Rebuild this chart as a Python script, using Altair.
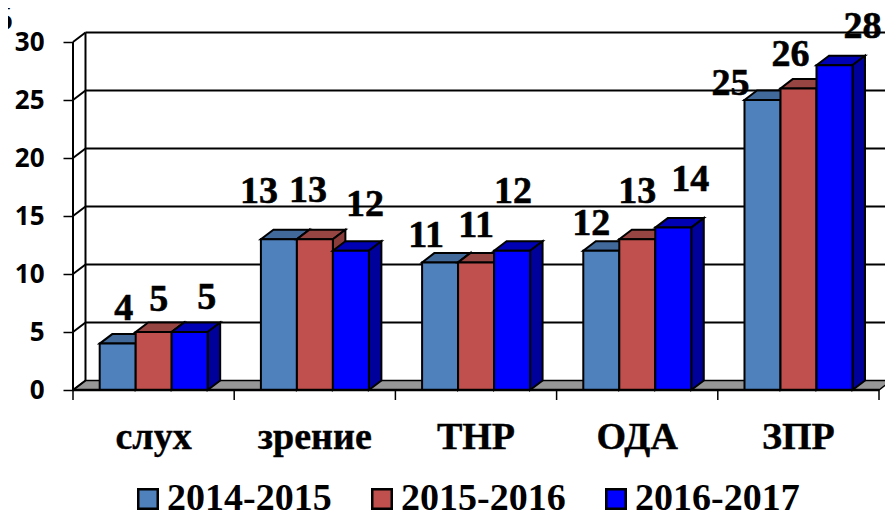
import altair as alt
import pandas as pd

categories = ["слух", "зрение", "ТНР", "ОДА", "ЗПР"]
series_names = ["2014-2015", "2015-2016", "2016-2017"]
v2014 = [4, 13, 11, 12, 25]
v2015 = [5, 13, 11, 13, 26]
v2016 = [5, 12, 12, 14, 28]
y_ticks = [0, 5, 10, 15, 20, 25, 30]

# Styling
front_colors = ["#4f81bd", "#c0504d", "#0000ff"]
top_colors = ["#41699a", "#964543", "#0000b4"]
side_colors = ["#3a5f8c", "#8a3c3a", "#00009b"]
SERIF = "Liberation Serif"
W, H = 812, 348
X_MAX = W / 161.2
# 3-D projection in data units
DX, DY = 0.0775, 0.82
GAP, BW = 0.1656, 0.2233

# label nudges (dx, dy) by series then category
nudges = [
    [(6, -24), (-20, -36), (-14, -15), (-10, -16), (-32, -5)],
    [(5, -21), (-7, -37), (0, -25), (0, -36), (-8, -22)],
    [(17, -23), (14, -35), (1, -48), (17, -37), (28, -27)],
]

values = [v2014, v2015, v2016]
x_scale = alt.Scale(domain=[0, X_MAX], nice=False, zero=False)
y_scale = alt.Scale(domain=[0, 30], nice=False)
y_axis_def = alt.Axis(
    values=y_ticks, title=None, domain=False, grid=False,
    tickSize=10, tickWidth=1.5, tickColor="black",
    labelFont="Open Sans", labelFontWeight="bold", labelFontSize=26,
    labelColor="black", labelPadding=19)
X = lambda f: alt.X(f, type="quantitative", scale=x_scale, axis=None)
Y = lambda f: alt.Y(f, type="quantitative", scale=y_scale, axis=y_axis_def, stack=None)
LINE = dict(stroke="black", strokeWidth=2)

rows = []
for s, name in enumerate(series_names):
    for i, cat in enumerate(categories):
        rows.append(dict(series=name, s=s, cat=cat, v=values[s][i],
                         xl=i + GAP + s * BW, xr=i + GAP + (s + 1) * BW))
bars = pd.DataFrame(rows)


def top_face(df):
    out = []
    for r in df.itertuples():
        out.append(dict(cat=r.cat, y=r.v, a=r.xl, b=r.xr))
        out.append(dict(cat=r.cat, y=r.v + DY, a=r.xl + DX, b=r.xr + DX))
    return pd.DataFrame(out)


def side_face(df):
    out = []
    for r in df.itertuples():
        out.append(dict(cat=r.cat, x=r.xr, y=0.0, y2=r.v))
        out.append(dict(cat=r.cat, x=r.xr + DX, y=DY, y2=r.v + DY))
    return pd.DataFrame(out)


floor = alt.Chart(pd.DataFrame({"y": [0, DY], "a": [0, DX], "b": [5, 5 + DX]})).mark_area(
    orient="horizontal", fill="#969696", stroke="black", strokeWidth=1.5, clip=False
).encode(x=X("a"), x2="b", y=Y("y"))

grid = alt.Chart(pd.DataFrame({"y": [t + DY for t in y_ticks[1:]], "a": DX, "b": X_MAX})).mark_rule(
    **LINE).encode(x=X("a"), x2="b", y=Y("y"))

diag = alt.Chart(pd.DataFrame(
    [dict(t=t, x=0, y=t) for t in y_ticks] + [dict(t=t, x=DX, y=t + DY) for t in y_ticks]
)).mark_line(**LINE).encode(x=X("x"), y=Y("y"), detail="t:N")

walls = alt.Chart(pd.DataFrame({"x": [0, DX], "y": [0, DY], "y2": [30, 30 + DY]})).mark_rule(
    **LINE).encode(x=X("x"), y=Y("y"), y2="y2")

base_axis = alt.Chart(pd.DataFrame({"a": [0], "b": [5], "y": [0]})).mark_rule(
    stroke="black", strokeWidth=2.5).encode(x=X("a"), x2="b", y=Y("y"))

x_ticks_layer = alt.Chart(pd.DataFrame({"x": list(range(6))})).mark_rule(stroke="black", strokeWidth=1.5).encode(
    x=X("x"), y=alt.value(H), y2=alt.value(H + 10))

layers = [floor, grid, diag, walls]

color_scale = alt.Scale(domain=series_names, range=front_colors)
legend = alt.Legend(
    title=None, orient="none", legendX=48, legendY=438, direction="horizontal",
    symbolType="square", symbolSize=380, symbolStrokeColor="black", symbolStrokeWidth=2.5,
    symbolOffset=8,
    labelFont=SERIF, labelFontWeight="bold", labelFontSize=38, labelColor="black",
    labelLimit=400, labelOffset=0, columnPadding=23, symbolOpacity=1, labelOpacity=1,
    padding=0,
)

for s, name in enumerate(series_names):
    d = bars[bars.s == s]
    layers.append(alt.Chart(top_face(d)).mark_area(
        orient="horizontal", fill=top_colors[s], **LINE
    ).encode(x=X("a"), x2="b", y=Y("y"), detail="cat:N"))
    layers.append(alt.Chart(side_face(d)).mark_area(
        fill=side_colors[s], **LINE
    ).encode(x=X("x"), y=Y("y"), y2="y2", detail="cat:N"))
    layers.append(alt.Chart(d).mark_rect(**LINE).encode(
        x=X("xl"), x2="xr", y=Y("v"), y2=alt.datum(0),
        color=alt.Color("series:N", scale=color_scale, legend=legend),
        opacity=alt.value(1),
    ))

layers += [base_axis, x_ticks_layer]

# data labels
for s in range(3):
    d = bars[bars.s == s].reset_index(drop=True)
    for i in range(5):
        dx, dy = nudges[s][i]
        layers.append(alt.Chart(d.iloc[[i]]).transform_calculate(cx="(datum.xl+datum.xr)/2").mark_text(
            font=SERIF, fontWeight="bold", fontSize=38, color="black",
            stroke="black", strokeWidth=0.6,
            baseline="alphabetic", dx=dx, dy=dy
        ).encode(x=X("cx"), y=Y("v"), text="v:Q"))

cat_df = pd.DataFrame({"x": [i + 0.5 for i in range(5)], "label": categories})
layers.append(alt.Chart(cat_df).mark_text(
    font=SERIF, fontWeight="bold", fontSize=38, color="black", baseline="alphabetic",
    stroke="black", strokeWidth=0.4,
).encode(x=X("x"), y=alt.value(H + 59), text="label:N"))

# clipped figure at the top-left corner of the picture
layers.append(alt.Chart(pd.DataFrame({"t": ["5"]})).mark_text(
    font=SERIF, fontWeight="bold", fontSize=37, color="black", baseline="alphabetic", align="right"
).encode(x=alt.value(-60), y=alt.value(-12), text="t:N"))

chart = alt.layer(*layers).resolve_scale(x="shared", y="shared").properties(
    width=W, height=H,
    padding={"left": 65, "top": 34, "right": 0, "bottom": 120},
    autosize=alt.AutoSizeParams(type="none"),
).configure_view(stroke=None)

chart.save("out.html", embed_options={"renderer": "svg", "actions": False})
